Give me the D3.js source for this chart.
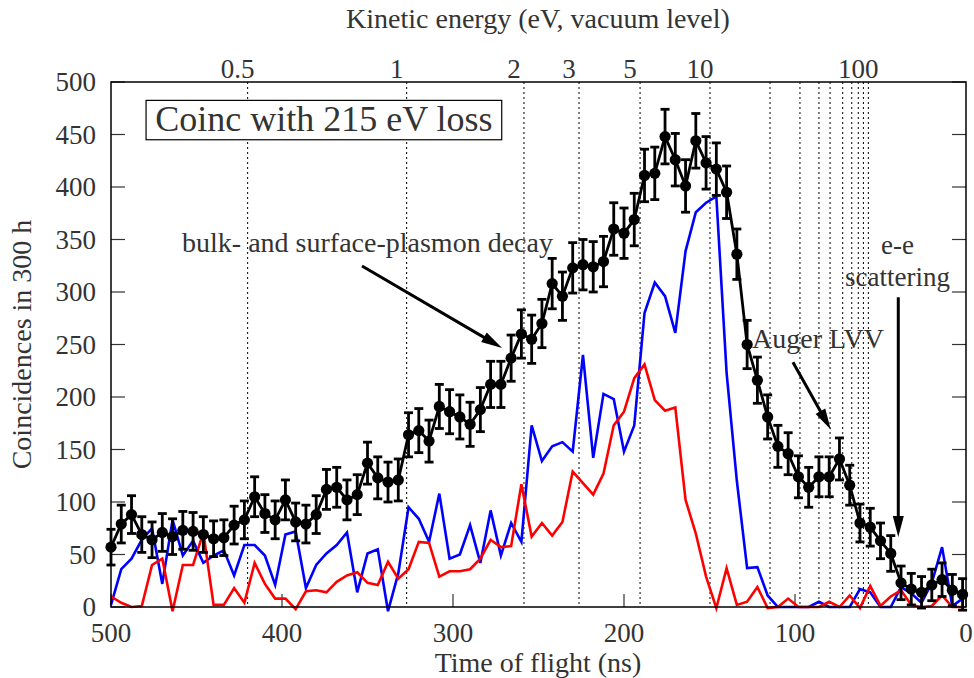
<!DOCTYPE html>
<html>
<head>
<meta charset="utf-8">
<title>Coinc with 215 eV loss</title>
<script src="https://d3js.org/d3.v7.min.js"></script>
<style>
    body { margin: 0; background: #fff; }
    svg text { font-family: 'Liberation Serif', 'DejaVu Serif', serif; fill: #333; }
</style>
</head>
<body>
<svg width="974" height="678" font-family="Liberation Serif, DejaVu Serif, serif"></svg>
<script>
// time of flight bin centres (ns)
var timeOfFlight = [
        500, 494, 488, 482, 476, 470, 464, 458, 452, 446, 440, 434, 428, 422, 416, 410, 404, 398, 392, 386,
        380, 374, 368, 362, 356, 350, 344, 338, 332, 326, 320, 314, 308, 302, 296, 290, 284, 278, 272, 266,
        260, 254, 248, 242, 236, 230, 224, 218, 212, 206, 200, 194, 188, 182, 176, 170, 164, 158, 152, 146,
        140, 134, 128, 122, 116, 110, 104, 98, 92, 86, 80, 74, 68, 62, 56, 50, 44, 38, 32, 26,
        20, 14, 8, 2
    ],
    // black: coincidences with 215 eV loss
    coincidences = [
        57, 79, 88, 69, 64, 71, 67, 73, 72, 69, 65, 66, 78, 83, 105, 89, 83, 102, 81, 79,
        88, 112, 114, 102, 107, 137, 123, 119, 121, 164, 168, 158, 191, 186, 181, 174, 188, 212, 212, 237,
        260, 255, 270, 308, 296, 323, 326, 324, 329, 360, 356, 369, 411, 413, 448, 426, 401, 444, 423, 417,
        395, 336, 250, 216, 181, 153, 146, 124, 114, 124, 124, 141, 116, 80, 76, 63, 51, 23, 17, 14,
        21, 26, 16, 12
    ],
    coincErrors = [
        17, 18, 18, 17, 17, 18, 17, 18, 18, 17, 17, 17, 18, 18, 19, 18, 18, 19, 18, 18,
        18, 19, 19, 19, 19, 20, 20, 19, 20, 21, 21, 20, 21, 21, 21, 21, 21, 22, 22, 22,
        23, 23, 23, 24, 23, 24, 24, 24, 24, 25, 24, 25, 25, 25, 26, 25, 25, 26, 25, 25,
        25, 24, 23, 22, 21, 20, 20, 20, 19, 19, 19, 20, 19, 18, 18, 17, 17, 16, 15, 15,
        15, 16, 15, 15
    ],
    blueSeries = [
        2, 36, 46, 64, 75, 22, 83, 49, 63, 42, 49, 54, 30, 59, 59, 49, 21, 69, 72, 18,
        40, 51, 59, 71, 14, 51, 55, -4, 32, 95, 84, 62, 108, 46, 50, 78, 42, 92, 49, 80,
        62, 173, 139, 153, 157, 148, 240, 142, 203, 198, 148, 173, 280, 309, 296, 261, 339, 376, 385, 391,
        223, 120, 37, 38, 11, 0, 0, 0, 0, 5, 0, 0, 0, 17, 14, 0, 0, 19, 13, 4,
        23, 57, 1, 8
    ],
    redSeries = [
        10, 4, 0, 1, 40, 46, -4, 40, 40, 71, 2, 2, 18, 4, 42, 22, 8, 8, -2, 15,
        16, 14, 24, 30, 33, 23, 21, 43, 27, 36, 62, 61, 29, 34, 34, 36, 46, 64, 57, 58,
        117, 67, 80, 68, 81, 129, 118, 107, 127, 173, 186, 218, 231, 197, 187, 190, 102, 70, 29, -1,
        37, 2, 5, 19, -1, 0, 8, 0, 0, 0, 5, 0, 11, -1, 20, 1, 10, 16, 2, 0,
        1, 11, 0, 0
    ],
    xTicks = [ 500, 400, 300, 200, 100, 0 ],
    yTicks = [ 0, 50, 100, 150, 200, 250, 300, 350, 400, 450, 500 ],
    // kinetic energy (eV) ticks on top and the flight time they fall on
    energyTicks   = [ 0.5, 1, 2, 3, 5, 10, 20, 30, 40, 50, 60, 70, 80, 90, 100 ],
    energyTickTof = [ 420.1, 327.1, 258.5, 226.3, 190.6, 149.7, 114.6, 97.1, 86, 79.5, 72.1, 66.8, 63, 60, 57.1 ],
    energyLabels  = [ '0.5', '1', '2', '3', '5', '10', '', '', '', '', '', '', '', '', '100' ];

var svg    = d3.select( 'svg' ),
    margin = { top : 82, right : 8, bottom : 71, left : 111 },
    width  = +svg.attr( 'width' ) - margin.left - margin.right,
    height = +svg.attr( 'height' ) - margin.top - margin.bottom,

    x = d3.scaleLinear().domain( [ 500, 0 ] ).range( [ 0, width ] ),
    y = d3.scaleLinear().domain( [ 0, 500 ] ).range( [ height, 0 ] ),

    g = svg.append( 'g' )
        .attr( 'transform', 'translate(' + margin.left + ',' + margin.top + ')' ),

    points = timeOfFlight.map( function( t, i ) {
        return { t : t, n : coincidences[ i ], err : coincErrors[ i ], blue : blueSeries[ i ], red : redSeries[ i ] };
    } );

// dotted energy grid lines
g.selectAll( '.egrid' )
    .data( energyTickTof )
    .enter().append( 'line' )
    .attr( 'class', 'egrid' )
    .attr( 'x1', function( d ) { return x( d ); } )
    .attr( 'x2', function( d ) { return x( d ); } )
    .attr( 'y1', 0 )
    .attr( 'y2', height )
    .attr( 'stroke', '#000' )
    .attr( 'stroke-width', 1 )
    .attr( 'stroke-dasharray', '2,3' );

// top energy labels (drawn a little left of their line, as in the original)
g.selectAll( '.elabel' )
    .data( energyTickTof )
    .enter().append( 'text' )
    .attr( 'x', function( d ) { return x( d ) - 10; } )
    .attr( 'y', -4 )
    .attr( 'text-anchor', 'middle' )
    .attr( 'font-size', 27 )
    .text( function( d, i ) { return energyLabels[ i ]; } );

// frame ticks
g.selectAll( '.ytickl' )
    .data( yTicks )
    .enter().append( 'line' )
    .attr( 'x1', 0 ).attr( 'x2', 14 )
    .attr( 'y1', function( d ) { return y( d ); } )
    .attr( 'y2', function( d ) { return y( d ); } )
    .attr( 'stroke', '#333' ).attr( 'stroke-width', 1.2 );

g.selectAll( '.ytickr' )
    .data( yTicks )
    .enter().append( 'line' )
    .attr( 'x1', width - 14 ).attr( 'x2', width )
    .attr( 'y1', function( d ) { return y( d ); } )
    .attr( 'y2', function( d ) { return y( d ); } )
    .attr( 'stroke', '#333' ).attr( 'stroke-width', 1.2 );

g.selectAll( '.xtick' )
    .data( xTicks )
    .enter().append( 'line' )
    .attr( 'x1', function( d ) { return x( d ); } )
    .attr( 'x2', function( d ) { return x( d ); } )
    .attr( 'y1', height ).attr( 'y2', height - 13 )
    .attr( 'stroke', '#333' ).attr( 'stroke-width', 1.2 );

g.selectAll( '.ylabel' )
    .data( yTicks )
    .enter().append( 'text' )
    .attr( 'x', -15 )
    .attr( 'y', function( d ) { return y( d ) + 9; } )
    .attr( 'text-anchor', 'end' )
    .attr( 'font-size', 27 )
    .text( function( d ) { return d; } );

g.selectAll( '.xlabel' )
    .data( xTicks )
    .enter().append( 'text' )
    .attr( 'x', function( d ) { return x( d ); } )
    .attr( 'y', height + 35 )
    .attr( 'text-anchor', 'middle' )
    .attr( 'font-size', 27 )
    .text( function( d ) { return d; } );

// series lines
function seriesLine( key ) {
    return d3.line()
        .x( function( d ) { return x( d.t ); } )
        .y( function( d ) { return y( d[ key ] ); } );
}

g.append( 'path' )
    .datum( points )
    .attr( 'fill', 'none' )
    .attr( 'stroke', '#0000ff' )
    .attr( 'stroke-width', 2.6 )
    .attr( 'd', seriesLine( 'blue' ) );

g.append( 'path' )
    .datum( points )
    .attr( 'fill', 'none' )
    .attr( 'stroke', '#ff0000' )
    .attr( 'stroke-width', 2.6 )
    .attr( 'd', seriesLine( 'red' ) );

g.append( 'path' )
    .datum( points )
    .attr( 'fill', 'none' )
    .attr( 'stroke', '#000' )
    .attr( 'stroke-width', 2.8 )
    .attr( 'd', seriesLine( 'n' ) );

// error bars
var bars = g.selectAll( '.err' )
    .data( points )
    .enter().append( 'g' )
    .attr( 'class', 'err' );

bars.append( 'line' )
    .attr( 'x1', function( d ) { return x( d.t ); } )
    .attr( 'x2', function( d ) { return x( d.t ); } )
    .attr( 'y1', function( d ) { return y( d.n - d.err ); } )
    .attr( 'y2', function( d ) { return y( d.n + d.err ); } )
    .attr( 'stroke', '#000' ).attr( 'stroke-width', 2.8 );

[ -1, 1 ].forEach( function( s ) {
    bars.append( 'line' )
        .attr( 'x1', function( d ) { return x( d.t ) - 4.5; } )
        .attr( 'x2', function( d ) { return x( d.t ) + 4.5; } )
        .attr( 'y1', function( d ) { return y( d.n + s * d.err ); } )
        .attr( 'y2', function( d ) { return y( d.n + s * d.err ); } )
        .attr( 'stroke', '#000' ).attr( 'stroke-width', 2.8 );
} );

g.selectAll( '.dot' )
    .data( points )
    .enter().append( 'circle' )
    .attr( 'cx', function( d ) { return x( d.t ); } )
    .attr( 'cy', function( d ) { return y( d.n ); } )
    .attr( 'r', 5.6 )
    .attr( 'fill', '#000' );

// frame
g.append( 'rect' )
    .attr( 'width', width )
    .attr( 'height', height )
    .attr( 'fill', 'none' )
    .attr( 'stroke', '#000' )
    .attr( 'stroke-width', 1.5 );

// title box
g.append( 'rect' )
    .attr( 'x', x( 479.5 ) ).attr( 'y', y( 482.5 ) )
    .attr( 'width', x( 271.5 ) - x( 479.5 ) )
    .attr( 'height', y( 445 ) - y( 482.5 ) )
    .attr( 'fill', '#fff' )
    .attr( 'stroke', '#000' )
    .attr( 'stroke-width', 1.2 );

g.append( 'text' )
    .attr( 'x', x( 375.5 ) )
    .attr( 'y', y( 453 ) )
    .attr( 'text-anchor', 'middle' )
    .attr( 'font-size', 36 )
    .text( 'Coinc with 215 eV loss' );

// annotations
function arrow( x1, y1, x2, y2 ) {
    var px1 = x( x1 ), py1 = y( y1 ), px2 = x( x2 ), py2 = y( y2 ),
        ang = Math.atan2( py2 - py1, px2 - px1 ),
        len = 21, half = 5.5,
        bx = px2 - len * Math.cos( ang ),
        by = py2 - len * Math.sin( ang );

    g.append( 'line' )
        .attr( 'x1', px1 ).attr( 'y1', py1 )
        .attr( 'x2', bx + 4 * Math.cos( ang ) ).attr( 'y2', by + 4 * Math.sin( ang ) )
        .attr( 'stroke', '#000' ).attr( 'stroke-width', 3 );

    g.append( 'path' )
        .attr( 'd', 'M' + px2 + ',' + py2 +
            'L' + ( bx + half * Math.sin( ang ) ) + ',' + ( by - half * Math.cos( ang ) ) +
            'L' + ( bx - half * Math.sin( ang ) ) + ',' + ( by + half * Math.cos( ang ) ) + 'Z' )
        .attr( 'fill', '#000' );
}

g.append( 'text' )
    .attr( 'x', x( 350 ) ).attr( 'y', y( 338 ) )
    .attr( 'text-anchor', 'middle' )
    .attr( 'font-size', 28 )
    .text( 'bulk- and surface-plasmon decay' );
arrow( 353.2, 324.8, 271.3, 246.7 );

g.append( 'text' )
    .attr( 'x', x( 125.1 ) ).attr( 'y', y( 247 ) )
    .attr( 'font-size', 28 )
    .text( 'Auger LVV' );
arrow( 101.2, 233, 79.1, 169 );

g.append( 'text' )
    .attr( 'x', x( 40 ) ).attr( 'y', y( 336 ) )
    .attr( 'text-anchor', 'middle' )
    .attr( 'font-size', 27 )
    .text( 'e-e' );
g.append( 'text' )
    .attr( 'x', x( 40 ) ).attr( 'y', y( 305.5 ) )
    .attr( 'text-anchor', 'middle' )
    .attr( 'font-size', 27 )
    .text( 'scattering' );
arrow( 39.6, 295, 39.6, 66.7 );

// axis titles
svg.append( 'text' )
    .attr( 'x', 538 ).attr( 'y', 28 )
    .attr( 'text-anchor', 'middle' )
    .attr( 'font-size', 28 )
    .text( 'Kinetic energy (eV, vacuum level)' );

svg.append( 'text' )
    .attr( 'x', 538 ).attr( 'y', 672 )
    .attr( 'text-anchor', 'middle' )
    .attr( 'font-size', 28 )
    .text( 'Time of flight (ns)' );

svg.append( 'text' )
    .attr( 'transform', 'translate(31,' + ( margin.top + height / 2 ) + ') rotate(-90)' )
    .attr( 'text-anchor', 'middle' )
    .attr( 'font-size', 28 )
    .text( 'Coincidences in 300 h' );
</script>
</body>
</html>
